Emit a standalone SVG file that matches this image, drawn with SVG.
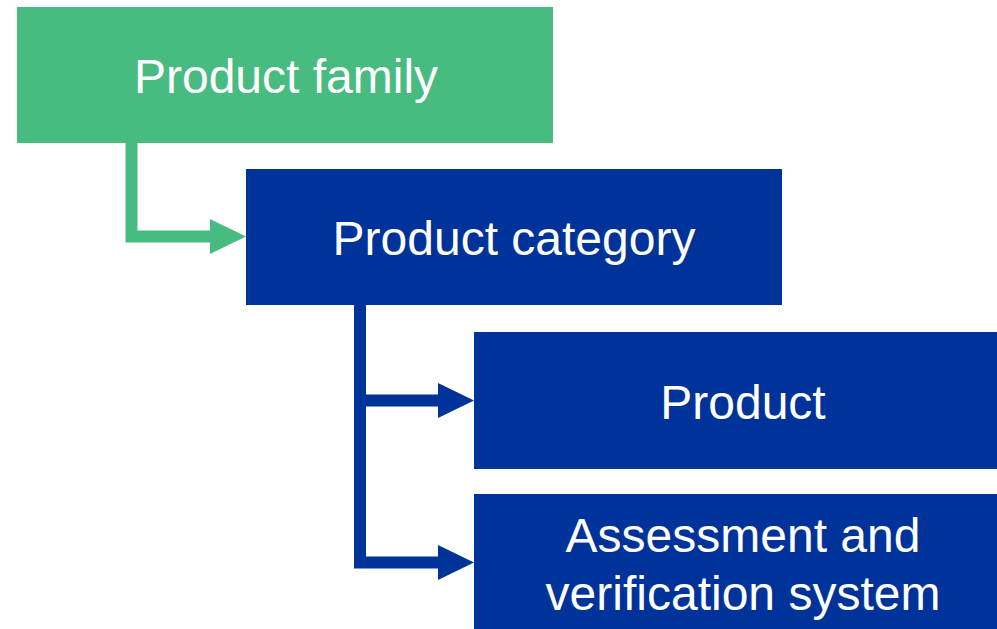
<svg xmlns="http://www.w3.org/2000/svg" width="997" height="629" viewBox="0 0 997 629">
<style>
.lbl{font-family:"Liberation Sans",Arial,sans-serif;font-size:48px;fill:#ffffff;text-anchor:middle}
.green{fill:#48BC80}
.blue{fill:#003399}
.cg{fill:none;stroke:#48BC80;stroke-width:12;stroke-linejoin:miter}
.cb{fill:none;stroke:#003399;stroke-width:12;stroke-linejoin:miter}
</style>
<defs>
<marker id="ahg" markerUnits="userSpaceOnUse" markerWidth="36" markerHeight="36" refX="0" refY="17.5" orient="auto" viewBox="0 0 36 35">
<path d="M0,0 L36,17.5 L0,35 Z" fill="#48BC80"/>
</marker>
<marker id="ahb" markerUnits="userSpaceOnUse" markerWidth="36" markerHeight="36" refX="0" refY="17.5" orient="auto" viewBox="0 0 36 35">
<path d="M0,0 L36,17.5 L0,35 Z" fill="#003399"/>
</marker>
</defs>
<rect width="997" height="629" fill="#ffffff"/>
<g id="connectors">
<polyline class="cg" points="131.5,143 131.5,236.5 210,236.5" marker-end="url(#ahg)"/>
<polyline class="cb" points="360,305 360,562.5 438,562.5" marker-end="url(#ahb)"/>
<polyline class="cb" points="360,400.5 438,400.5" marker-end="url(#ahb)"/>
</g>
<g id="product-family">
<rect class="green" x="17" y="7" width="536" height="136"/>
<text class="lbl" x="286" y="93">Product family</text>
</g>
<g id="product-category">
<rect class="blue" x="246" y="169" width="536" height="136"/>
<text class="lbl" x="514" y="255">Product category</text>
</g>
<g id="product">
<rect class="blue" x="474" y="332" width="523" height="137"/>
<text class="lbl" x="743" y="419">Product</text>
</g>
<g id="assessment">
<rect class="blue" x="474" y="494" width="523" height="135"/>
<text class="lbl" x="743" y="552">Assessment and</text>
<text class="lbl" x="743" y="610">verification system</text>
</g>
</svg>
